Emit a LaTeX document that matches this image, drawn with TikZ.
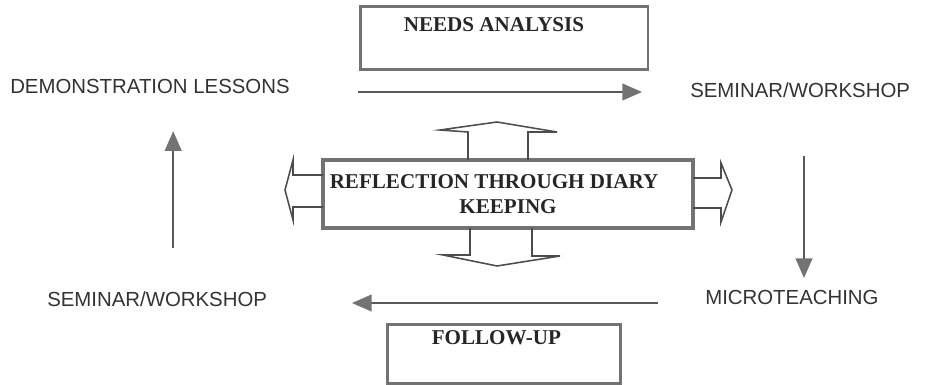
\documentclass[tikz,border=0pt]{standalone}
\usepackage{fontspec}
\setmainfont{Liberation Serif}
\newfontfamily\labelfont{Liberation Sans}
\usetikzlibrary{arrows.meta}

\tikzset{
  stage/.style={inner sep=0pt, anchor=west, text=black!80, font=\labelfont\fontsize{14.5}{17}\selectfont},
  framebox/.style={draw=black!55, line width=2pt, inner sep=0pt},
  boxtext/.style={inner sep=0pt, text=black!85, font=\bfseries\fontsize{15}{18}\selectfont},
  flow/.style={draw=black!65, line width=1pt, -{Triangle[length=14pt,width=12pt,fill=black!55,color=black!55]}},
  blockarrow/.style={draw=black!70, line width=1.1pt, line join=miter}
}

\begin{document}
\begin{tikzpicture}
\useasboundingbox (0,0) rectangle (23.2,-9.625);

% the three framed boxes
\node[framebox, minimum width=7.175cm, minimum height=1.575cm] (needs) at (12.61,-0.96) {};
\node[boxtext] (needstext) at (12.35,-0.62) {NEEDS ANALYSIS};

\node[framebox, line width=2.6pt, minimum width=9.25cm, minimum height=1.7cm] (diary) at (12.7,-4.85) {};
\node[boxtext] (diarytop) at (12.35,-4.55) {REFLECTION THROUGH DIARY};
\node[boxtext] (diarybot) at (12.7,-5.175) {KEEPING};

\node[framebox, minimum width=5.825cm, minimum height=1.475cm] (follow) at (12.59,-8.86) {};
\node[boxtext] (followtext) at (12.41,-8.43) {FOLLOW-UP};

% the four stages
\node[stage] (demo) at (0.25,-2.16) {DEMONSTRATION LESSONS};
\node[stage] (seminartop) at (17.25,-2.25) {SEMINAR/WORKSHOP};
\node[stage] (seminarbot) at (1.175,-7.47) {SEMINAR/WORKSHOP};
\node[stage] (micro) at (17.625,-7.43) {MICROTEACHING};

% cycle arrows
\coordinate (demo-out) at (8.95,-2.3);
\coordinate (seminartop-in) at (16.05,-2.3);
\coordinate (seminartop-out) at (20.1,-3.9);
\coordinate (micro-in) at (20.1,-6.95);
\coordinate (micro-out) at (16.45,-7.575);
\coordinate (seminarbot-in) at (8.8,-7.575);
\coordinate (seminarbot-out) at (4.33,-6.2);
\coordinate (demo-in) at (4.33,-3.28);

\draw[flow] (demo-out) -- (seminartop-in);
\draw[flow] (seminartop-out) -- (micro-in);
\draw[flow] (micro-out) -- (seminarbot-in);
\draw[flow] (seminarbot-out) -- (demo-in);

% block arrows out of the diary box
\draw[blockarrow] (11.7,-4.0) -- (11.7,-3.3) -- (11.0,-3.25) -- (12.425,-3.05) -- (13.925,-3.3) -- (13.2,-3.3) -- (13.2,-4.0);
\draw[blockarrow] (11.75,-5.7) -- (11.75,-6.375) -- (11.075,-6.375) -- (12.425,-6.65) -- (14.0,-6.4) -- (13.3,-6.4) -- (13.3,-5.7);
\draw[blockarrow] (8.075,-4.375) -- (7.325,-4.375) -- (7.325,-4.0) -- (7.125,-4.75) -- (7.325,-5.5) -- (7.325,-5.175) -- (8.075,-5.175);
\draw[blockarrow] (17.325,-4.45) -- (18.025,-4.45) -- (18.025,-4.075) -- (18.3,-4.75) -- (18.025,-5.55) -- (18.025,-5.2) -- (17.325,-5.2);

\end{tikzpicture}
\end{document}
